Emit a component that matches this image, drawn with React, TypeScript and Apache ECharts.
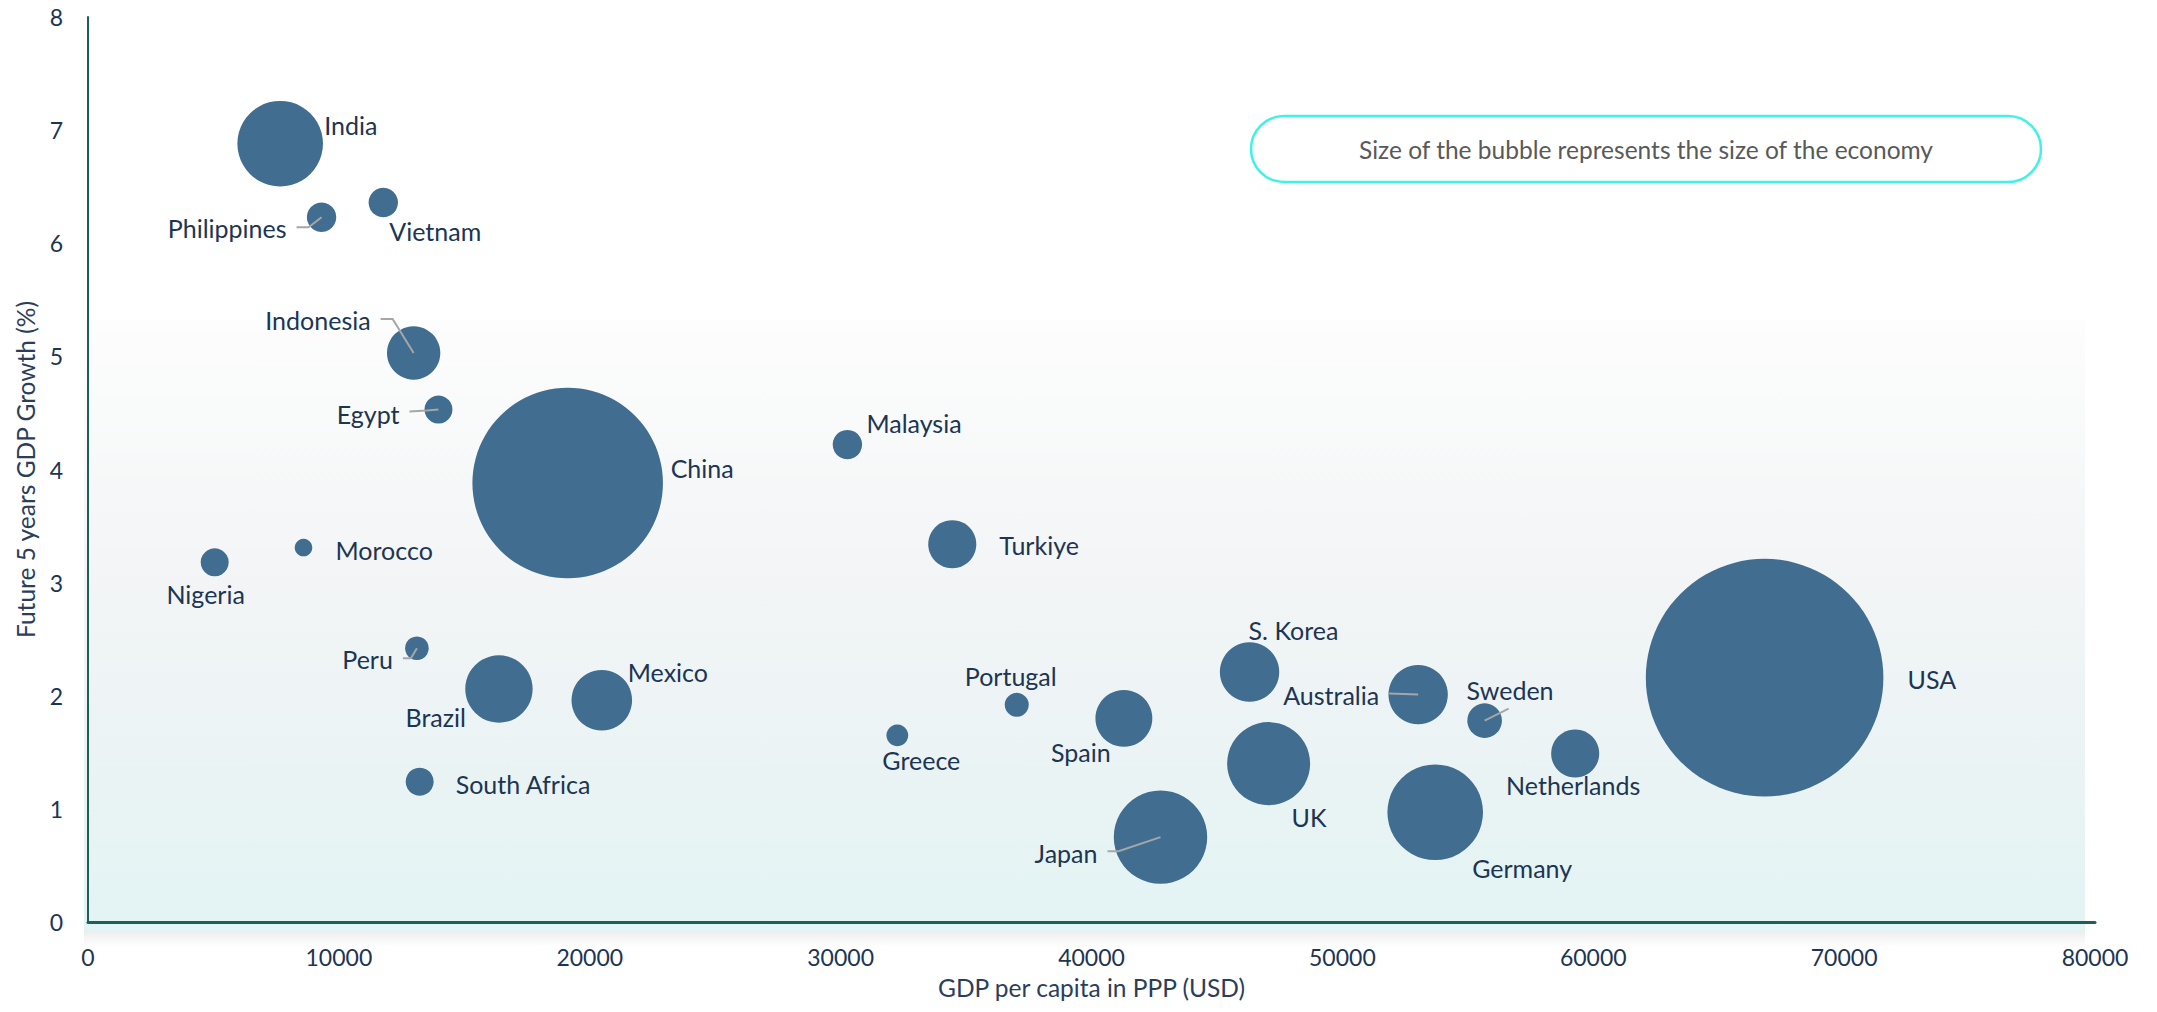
import React, { useEffect, useRef } from "react";
import * as echarts from "echarts";

// ---------------- data ----------------
const countries = [
  "India", "Philippines", "Vietnam", "Indonesia", "Egypt", "China", "Malaysia", "Turkiye",
  "Nigeria", "Morocco", "Peru", "Brazil", "Mexico", "South Africa", "Greece", "Portugal",
  "Spain", "Japan", "S. Korea", "UK", "Australia", "Sweden", "Netherlands", "Germany", "USA",
];
// GDP per capita in PPP (USD)
const gdpPerCapita = [
  7660, 9310, 11770, 12980, 13970, 19120, 30270, 34450,
  5050, 8590, 13110, 16380, 20480, 13220, 32260, 37020,
  41290, 42750, 46300, 47060, 53020, 55670, 59280, 53700, 66830,
];
// Future 5 years GDP growth (%)
const growth = [
  6.88, 6.23, 6.36, 5.03, 4.53, 3.88, 4.22, 3.34,
  3.18, 3.31, 2.42, 2.06, 1.96, 1.24, 1.65, 1.92,
  1.80, 0.75, 2.21, 1.40, 2.01, 1.78, 1.49, 0.97, 2.16,
];
// Size of the economy (GDP, trillion USD) -> bubble area
const economySize = [
  3.55, 0.42, 0.42, 1.38, 0.38, 17.6, 0.42, 1.12,
  0.38, 0.15, 0.27, 2.2, 1.78, 0.38, 0.23, 0.28,
  1.57, 4.23, 1.71, 3.34, 1.71, 0.58, 1.12, 4.43, 27.36,
];
const xTicks = { min: 0, max: 80000, interval: 10000 };
const yTicks = { min: 0, max: 8, interval: 1 };
const xAxisName = "GDP per capita in PPP (USD)";
const yAxisName = "Future 5 years GDP Growth (%)";
const noteText = "Size of the bubble represents the size of the economy";

// ---------------- layout / style ----------------
const BUBBLE_SCALE = 45.42; // px of diameter per sqrt(trillion USD)
const FONT = "Lato";
const NAVY = "#1c3553";
const AXIS_COLOR = "#1f5f59";
const BUBBLE_COLOR = "#406d90";

// label placement relative to bubble centre (px)
const labelPlacement: Record<string, [number, number, string]> = {
  India: [44, -19, "left"],
  Philippines: [-35, 11, "right"],
  Vietnam: [6, 28, "left"],
  Indonesia: [-43, -33, "right"],
  Egypt: [-39, 4, "right"],
  China: [103, -15, "left"],
  Malaysia: [19, -22, "left"],
  Turkiye: [47, 1, "left"],
  Nigeria: [-9, 32, "center"],
  Morocco: [32, 2, "left"],
  Peru: [-24, 11, "right"],
  Brazil: [-33, 28, "right"],
  Mexico: [26, -28, "left"],
  "South Africa": [36, 2, "left"],
  Greece: [24, 25, "center"],
  Portugal: [-6, -29, "center"],
  Spain: [-43, 34, "center"],
  Japan: [-63, 16, "right"],
  "S. Korea": [-1, -42, "left"],
  UK: [23, 53, "left"],
  Australia: [-39, 0, "right"],
  Sweden: [-18, -31, "left"],
  Netherlands: [-2, 32, "center"],
  Germany: [37, 56, "left"],
  USA: [143, 1, "left"],
};

// leader lines (points relative to bubble centre, px)
const leaderLines: Record<string, number[][]> = {
  Philippines: [[-25, 10], [-13, 10], [0, 0]],
  Indonesia: [[-33, -34], [-21, -34], [0, 0]],
  Egypt: [[-29, 2], [-12, 1], [0, 0]],
  Peru: [[-14, 10], [-6, 10], [0, 0]],
  Japan: [[-53, 14], [-42, 14], [0, 0]],
  Australia: [[-29, -1], [0, 0]],
  Sweden: [[24, -12], [0, 0]],
};

export default function App() {
  const ref = useRef<HTMLDivElement>(null);

  useEffect(() => {
    if (!ref.current) return;
    const chart = echarts.init(ref.current, undefined, { renderer: "svg" });

    const bubbleData = countries.map((name, i) => ({
      name,
      value: [gdpPerCapita[i], growth[i], economySize[i]],
    }));
    const leaderNames = countries.filter((c) => leaderLines[c]);
    const leaderData = leaderNames.map((name) => {
      const i = countries.indexOf(name);
      return { name, value: [gdpPerCapita[i], growth[i]] };
    });

    const option: any = {
      animation: false,
      backgroundColor: "#ffffff",
      textStyle: { fontFamily: FONT },
      grid: { left: 88, right: 62, top: 17, bottom: 90, containLabel: false },
      xAxis: {
        type: "value",
        min: xTicks.min,
        max: xTicks.max,
        interval: xTicks.interval,
        name: xAxisName,
        nameLocation: "middle",
        nameGap: 53,
        nameTextStyle: { color: "#2a3e5a", fontSize: 24.5, fontFamily: FONT },
        axisLine: { show: true, lineStyle: { color: AXIS_COLOR, width: 3 } },
        axisTick: { show: false },
        splitLine: { show: false },
        axisLabel: {
          color: NAVY,
          fontSize: 23,
          margin: 23,
          fontFamily: FONT,
          formatter: (v: number) => String(v),
        },
      },
      yAxis: {
        type: "value",
        min: yTicks.min,
        max: yTicks.max,
        interval: yTicks.interval,
        name: yAxisName,
        nameLocation: "middle",
        nameGap: 50,
        nameTextStyle: { color: "#2a3e5a", fontSize: 24.5, fontFamily: FONT },
        axisLine: { show: true, lineStyle: { color: AXIS_COLOR, width: 2 } },
        axisTick: { show: false },
        splitLine: { show: false },
        axisLabel: { color: NAVY, fontSize: 23, margin: 25, fontFamily: FONT },
      },
      graphic: [
        {
          type: "rect",
          z: -10,
          silent: true,
          shape: { x: 84, y: 931, width: 2001, height: 16 },
          style: {
            fill: new echarts.graphic.LinearGradient(0, 0, 0, 1, [
              { offset: 0, color: "rgba(0,0,0,0.07)" },
              { offset: 1, color: "rgba(0,0,0,0)" },
            ]),
          },
        },
        {
          type: "rect",
          z: -10,
          silent: true,
          shape: { x: 84, y: 320, width: 2001, height: 611 },
          style: {
            fill: new echarts.graphic.LinearGradient(0, 0, 0, 1, [
              { offset: 0, color: "#fdfdfd" },
              { offset: 0.4, color: "#f3f5f6" },
              { offset: 0.75, color: "#eaf3f4" },
              { offset: 1, color: "#e2f4f3" },
            ]),
          },
        },
        {
          type: "group",
          children: [
            {
              type: "rect",
              shape: { x: 1251, y: 116, width: 790, height: 66, r: 33 },
              style: { fill: "#ffffff", stroke: "#3ff2e6", lineWidth: 2.5 },
            },
            {
              type: "text",
              x: 1646,
              y: 149,
              style: {
                text: noteText,
                fill: "#595959",
                font: `24.5px ${FONT}`,
                align: "center",
                verticalAlign: "middle",
              },
            },
          ],
        },
      ],
      series: [
        {
          type: "scatter",
          data: bubbleData,
          symbol: "circle",
          symbolSize: (val: number[]) => BUBBLE_SCALE * Math.sqrt(val[2]),
          itemStyle: { color: BUBBLE_COLOR, opacity: 1 },
          label: {
            show: true,
            formatter: "{b}",
            color: NAVY,
            fontSize: 25,
            fontFamily: FONT,
          },
          labelLayout: (params: any) => {
            const name = countries[params.dataIndex];
            const p = labelPlacement[name] || [0, 0, "center"];
            const cx = params.rect.x + params.rect.width / 2;
            const cy = params.rect.y + params.rect.height / 2;
            return { x: cx + p[0], y: cy + p[1], align: p[2], verticalAlign: "middle" };
          },
          emphasis: { disabled: true },
          z: 2,
        },
        {
          type: "custom",
          coordinateSystem: "cartesian2d",
          data: leaderData,
          encode: { x: 0, y: 1 },
          clip: false,
          silent: true,
          z: 3,
          renderItem: (params: any, api: any) => {
            const name = leaderNames[params.dataIndex];
            const c = api.coord([api.value(0), api.value(1)]);
            const pts = leaderLines[name].map((p) => [c[0] + p[0], c[1] + p[1]]);
            return {
              type: "polyline",
              shape: { points: pts },
              style: { stroke: "#a6a6a6", lineWidth: 2, fill: "none" },
            };
          },
        },
      ],
    };

    chart.setOption(option);
    return () => chart.dispose();
  }, []);

  return (
    <div
      ref={ref}
      style={{ position: "fixed", left: 0, top: 0, width: 2157, height: 1012 }}
    />
  );
}
